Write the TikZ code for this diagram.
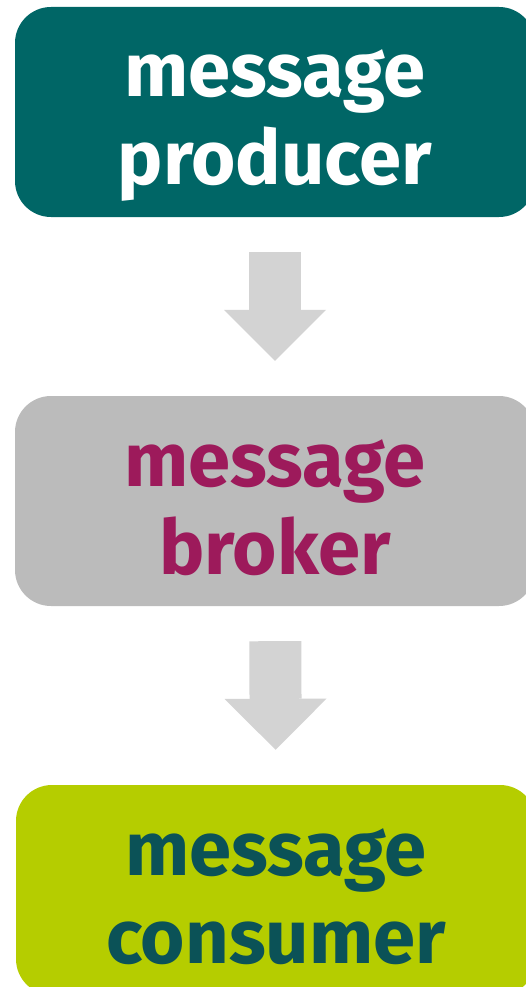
\documentclass[tikz,border=0pt]{standalone}
\usepackage{fontspec}
\setmainfont{Fira Sans}
\usepackage{xcolor}
\usetikzlibrary{arrows.meta}
\definecolor{colProducer}{RGB}{0,102,102}
\definecolor{colBroker}{RGB}{187,187,187}
\definecolor{colBrokerText}{RGB}{157,26,91}
\definecolor{colConsumer}{RGB}{181,205,0}
\definecolor{colConsumerText}{RGB}{11,82,87}
\definecolor{colArrow}{RGB}{211,211,211}

\begin{document}
\begin{tikzpicture}[
  x=1pt, y=-1pt,
  box/.style={rounded corners=36pt, minimum width=520pt, minimum height=210pt, inner sep=0pt},
  lbl/.style={font=\fontsize{76}{88}\selectfont\bfseries, align=center, anchor=base},
  flow/.style={draw=colArrow, line width=52pt, shorten <=35pt, shorten >=35pt,
               -{Triangle[length=51pt, width=102pt, line width=0pt]}},
]
% Frame (boxes run past the right and bottom edge)
\useasboundingbox (0,0) rectangle (526,987);
\clip (0,0) rectangle (526,987);

% Boxes
\node[box, fill=colProducer] (producer) at (275,112) {};
\node[box, fill=colBroker] (broker) at (275,501) {};
\node[box, fill=colConsumer] (consumer) at (276,890) {};

% Labels (base = baseline of the last line)
\node[lbl, white] (producerlbl) at (275,185) {message\\producer};
\node[lbl, colBrokerText] (brokerlbl) at (275,574) {message\\broker};
\node[lbl, colConsumerText] (consumerlbl) at (276,963) {message\\consumer};

% Flow arrows
\draw[flow] (producer) -- (broker);
\draw[flow] (broker) -- (consumer);

\end{tikzpicture}
\end{document}
